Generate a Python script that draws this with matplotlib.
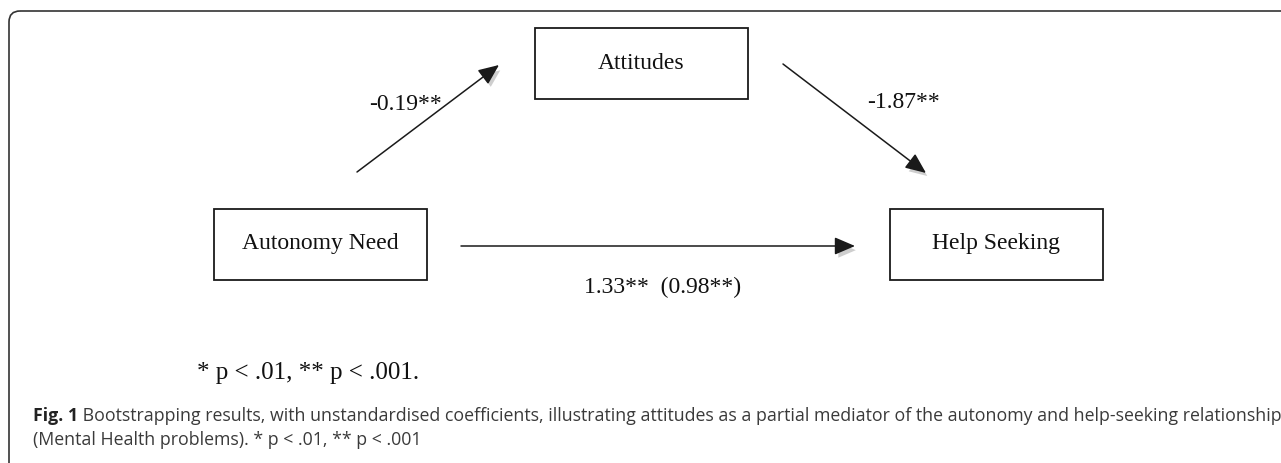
import matplotlib
matplotlib.use("Agg")
import matplotlib.pyplot as plt
from matplotlib.patches import FancyBboxPatch, Rectangle, FancyArrowPatch
import matplotlib.patheffects as pe

# diagram content
nodes = ["Attitudes", "Autonomy Need", "Help Seeking"]
edges = [("Autonomy Need", "Attitudes"),
         ("Attitudes", "Help Seeking"),
         ("Autonomy Need", "Help Seeking")]
edge_labels = ["-0.19**", "-1.87**", "1.33**  (0.98**)"]
note = "* p < .01, ** p < .001."
caption_bold = "Fig. 1"
caption_line1 = (" Bootstrapping results, with unstandardised coefficients, illustrating "
                 "attitudes as a partial mediator of the autonomy and help-seeking relationship")
caption_line2 = "(Mental Health problems). * p < .01, ** p < .001"

# layout in pixel units (x right, y down)
W, H = 1281, 463
box_w, box_h = 213, 71
box_center = {"Attitudes": (641.5, 63.5),
              "Autonomy Need": (320, 244),
              "Help Seeking": (996.5, 244)}
arrow_pts = [((357, 172), (499, 65)),
             ((783, 64), (926, 173)),
             ((461, 246), (855, 246))]
label_pos = [(406, 104), (903, 103), (663, 287)]

fig = plt.figure(figsize=(W / 100, H / 100), dpi=100)
ax = fig.add_axes([0, 0, 1, 1])
ax.set_xlim(0, W)
ax.set_ylim(H, 0)
ax.axis("off")

# outer panel frame (only top-left corner visible)
frame = FancyBboxPatch((9, 11), 1500, 800, boxstyle="round,pad=0,rounding_size=11",
                       fc="none", ec="#333333", lw=1.2)
ax.add_patch(frame)

serif = "Liberation Serif"

# boxes
for name in nodes:
    cx, cy = box_center[name]
    ax.add_patch(Rectangle((cx - box_w / 2, cy - box_h / 2), box_w, box_h,
                           fc="white", ec="#1a1a1a", lw=1.3))
    ax.text(cx, cy, name, ha="center", va="center", fontsize=17,
            family=serif, color="#111111")

# arrows with soft shadow
shadow = [pe.withSimplePatchShadow(offset=(2, -3), shadow_rgbFace="0.45", alpha=0.35)]
for (a, b) in arrow_pts:
    arr = FancyArrowPatch(a, b, arrowstyle="-|>,head_length=1.05,head_width=0.45",
                          mutation_scale=12, lw=1.1, color="#1a1a1a",
                          shrinkA=0, shrinkB=0, path_effects=shadow)
    ax.add_patch(arr)

for (x, y), lab in zip(label_pos, edge_labels):
    ax.text(x, y, lab, ha="center", va="center", fontsize=17, family=serif,
            color="#111111")

# significance note
ax.text(308, 373, note, ha="center", va="center", fontsize=18, family=serif,
        color="#111111")

# caption, scaled to span the panel width
cap_font = "Open Sans"
fig.canvas.draw()
rend = fig.canvas.get_renderer()
fs = 12.0
tb = ax.text(33, 416, caption_bold, ha="left", va="center", fontsize=fs,
             family=cap_font, fontweight="bold", color="#222222")
tr = ax.text(0, 416, caption_line1, ha="left", va="center", fontsize=fs,
             family=cap_font, color="#3a3a3a")
w_total = tb.get_window_extent(rend).width + tr.get_window_extent(rend).width
fs = fs * (1276 - 33) / w_total
tb.set_fontsize(fs)
tr.set_fontsize(fs)
wb = tb.get_window_extent(rend).width
tr.set_x(33 + wb)
ax.text(33, 440, caption_line2, ha="left", va="center", fontsize=fs,
        family=cap_font, color="#3a3a3a")

fig.savefig("out.png", dpi=100, facecolor="white")
